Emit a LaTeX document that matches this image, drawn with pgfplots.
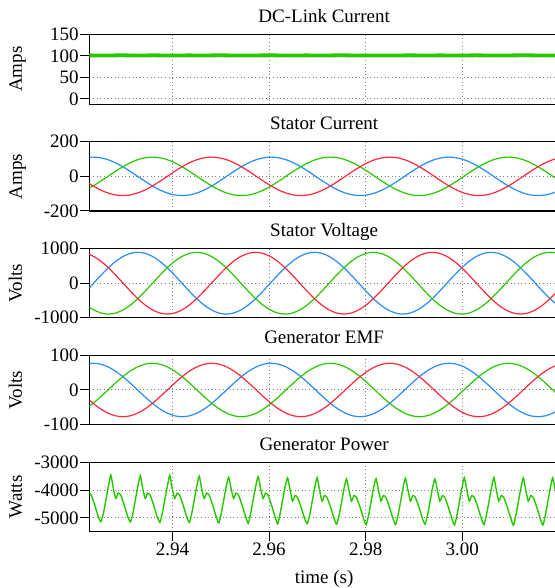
\documentclass[border=0pt]{standalone}
\usepackage{pgfplots}
\pgfplotsset{compat=1.18}
\usepackage{pgfplotstable}
\usepackage{fontspec}
\setmainfont{Liberation Serif}
\newcommand{\fs}{\fontsize{9.5}{11}\selectfont}
\definecolor{pgreen}{RGB}{40,200,0}
\definecolor{pblue}{RGB}{40,140,255}
\definecolor{pred}{RGB}{255,40,60}

% stator current (ib ig ir) and generator EMF (eb eg er)
\pgfplotstableread{
t ib ig ir eb eg er
2.922060 107.2 -78.5 -28.7 74.4 -54.4 -19.9
2.923594 111 -55.5 -55.5 77 -38.5 -38.5
2.925129 107.2 -28.7 -78.5 74.4 -19.9 -54.4
2.926663 96.1 0 -96.1 66.7 0 -66.7
2.928198 78.5 28.7 -107.2 54.4 19.9 -74.4
2.929732 55.5 55.5 -111 38.5 38.5 -77
2.931267 28.7 78.5 -107.2 19.9 54.4 -74.4
2.932801 0 96.1 -96.1 0 66.7 -66.7
2.934336 -28.7 107.2 -78.5 -19.9 74.4 -54.4
2.935870 -55.5 111 -55.5 -38.5 77 -38.5
2.937405 -78.5 107.2 -28.7 -54.4 74.4 -19.9
2.938939 -96.1 96.1 0 -66.7 66.7 0
2.940474 -107.2 78.5 28.7 -74.4 54.4 19.9
2.942008 -111 55.5 55.5 -77 38.5 38.5
2.943543 -107.2 28.7 78.5 -74.4 19.9 54.4
2.945077 -96.1 0 96.1 -66.7 0 66.7
2.946612 -78.5 -28.7 107.2 -54.4 -19.9 74.4
2.948146 -55.5 -55.5 111 -38.5 -38.5 77
2.949681 -28.7 -78.5 107.2 -19.9 -54.4 74.4
2.951215 0 -96.1 96.1 0 -66.7 66.7
2.952750 28.7 -107.2 78.5 19.9 -74.4 54.4
2.954284 55.5 -111 55.5 38.5 -77 38.5
2.955819 78.5 -107.2 28.7 54.4 -74.4 19.9
2.957353 96.1 -96.1 0 66.7 -66.7 0
2.958888 107.2 -78.5 -28.7 74.4 -54.4 -19.9
2.960422 111 -55.5 -55.5 77 -38.5 -38.5
2.961957 107.2 -28.7 -78.5 74.4 -19.9 -54.4
2.963491 96.1 0 -96.1 66.7 0 -66.7
2.965026 78.5 28.7 -107.2 54.4 19.9 -74.4
2.966560 55.5 55.5 -111 38.5 38.5 -77
2.968095 28.7 78.5 -107.2 19.9 54.4 -74.4
2.969629 0 96.1 -96.1 0 66.7 -66.7
2.971164 -28.7 107.2 -78.5 -19.9 74.4 -54.4
2.972698 -55.5 111 -55.5 -38.5 77 -38.5
2.974233 -78.5 107.2 -28.7 -54.4 74.4 -19.9
2.975767 -96.1 96.1 0 -66.7 66.7 0
2.977302 -107.2 78.5 28.7 -74.4 54.4 19.9
2.978836 -111 55.5 55.5 -77 38.5 38.5
2.980371 -107.2 28.7 78.5 -74.4 19.9 54.4
2.981905 -96.1 0 96.1 -66.7 0 66.7
2.983440 -78.5 -28.7 107.2 -54.4 -19.9 74.4
2.984974 -55.5 -55.5 111 -38.5 -38.5 77
2.986509 -28.7 -78.5 107.2 -19.9 -54.4 74.4
2.988043 0 -96.1 96.1 0 -66.7 66.7
2.989578 28.7 -107.2 78.5 19.9 -74.4 54.4
2.991112 55.5 -111 55.5 38.5 -77 38.5
2.992647 78.5 -107.2 28.7 54.4 -74.4 19.9
2.994181 96.1 -96.1 0 66.7 -66.7 0
2.995716 107.2 -78.5 -28.7 74.4 -54.4 -19.9
2.997250 111 -55.5 -55.5 77 -38.5 -38.5
2.998785 107.2 -28.7 -78.5 74.4 -19.9 -54.4
3.000319 96.1 0 -96.1 66.7 0 -66.7
3.001854 78.5 28.7 -107.2 54.4 19.9 -74.4
3.003388 55.5 55.5 -111 38.5 38.5 -77
3.004923 28.7 78.5 -107.2 19.9 54.4 -74.4
3.006457 0 96.1 -96.1 0 66.7 -66.7
3.007992 -28.7 107.2 -78.5 -19.9 74.4 -54.4
3.009526 -55.5 111 -55.5 -38.5 77 -38.5
3.011061 -78.5 107.2 -28.7 -54.4 74.4 -19.9
3.012595 -96.1 96.1 0 -66.7 66.7 0
3.014130 -107.2 78.5 28.7 -74.4 54.4 19.9
3.015664 -111 55.5 55.5 -77 38.5 38.5
3.017199 -107.2 28.7 78.5 -74.4 19.9 54.4
3.018733 -96.1 0 96.1 -66.7 0 66.7
3.020268 -78.5 -28.7 107.2 -54.4 -19.9 74.4
}\ctable

% stator voltage
\pgfplotstableread{
t vb vg vr
2.922180 -231.6 -632.9 864.5
2.923703 0 -775.1 775.1
2.925226 231.6 -864.5 632.9
2.926749 447.5 -895 447.5
2.928272 632.9 -864.5 231.6
2.929796 775.1 -775.1 0
2.931319 864.5 -632.9 -231.6
2.932842 895 -447.5 -447.5
2.934365 864.5 -231.6 -632.9
2.935888 775.1 0 -775.1
2.937412 632.9 231.6 -864.5
2.938935 447.5 447.5 -895
2.940458 231.6 632.9 -864.5
2.941981 0 775.1 -775.1
2.943504 -231.6 864.5 -632.9
2.945028 -447.5 895 -447.5
2.946551 -632.9 864.5 -231.6
2.948074 -775.1 775.1 0
2.949597 -864.5 632.9 231.6
2.951120 -895 447.5 447.5
2.952644 -864.5 231.6 632.9
2.954167 -775.1 0 775.1
2.955690 -632.9 -231.6 864.5
2.957213 -447.5 -447.5 895
2.958736 -231.6 -632.9 864.5
2.960260 0 -775.1 775.1
2.961783 231.6 -864.5 632.9
2.963306 447.5 -895 447.5
2.964829 632.9 -864.5 231.6
2.966352 775.1 -775.1 0
2.967876 864.5 -632.9 -231.6
2.969399 895 -447.5 -447.5
2.970922 864.5 -231.6 -632.9
2.972445 775.1 0 -775.1
2.973968 632.9 231.6 -864.5
2.975492 447.5 447.5 -895
2.977015 231.6 632.9 -864.5
2.978538 0 775.1 -775.1
2.980061 -231.6 864.5 -632.9
2.981584 -447.5 895 -447.5
2.983108 -632.9 864.5 -231.6
2.984631 -775.1 775.1 0
2.986154 -864.5 632.9 231.6
2.987677 -895 447.5 447.5
2.989200 -864.5 231.6 632.9
2.990724 -775.1 0 775.1
2.992247 -632.9 -231.6 864.5
2.993770 -447.5 -447.5 895
2.995293 -231.6 -632.9 864.5
2.996816 0 -775.1 775.1
2.998340 231.6 -864.5 632.9
2.999863 447.5 -895 447.5
3.001386 632.9 -864.5 231.6
3.002909 775.1 -775.1 0
3.004432 864.5 -632.9 -231.6
3.005956 895 -447.5 -447.5
3.007479 864.5 -231.6 -632.9
3.009002 775.1 0 -775.1
3.010525 632.9 231.6 -864.5
3.012048 447.5 447.5 -895
3.013572 231.6 632.9 -864.5
3.015095 0 775.1 -775.1
3.016618 -231.6 864.5 -632.9
3.018141 -447.5 895 -447.5
3.019664 -632.9 864.5 -231.6
3.021188 -775.1 775.1 0
}\vtable

% generator power
\pgfplotstableread{
t p
2.92218 -4300
2.92268 -4110
2.92319 -4180
2.92370 -4420
2.92421 -4700
2.92472 -4990
2.92522 -5140
2.92573 -4830
2.92624 -4350
2.92675 -3870
2.92726 -3460
2.92777 -3950
2.92828 -4300
2.92878 -4110
2.92929 -4180
2.92980 -4420
2.93031 -4700
2.93082 -4990
2.93132 -5150
2.93183 -4830
2.93234 -4350
2.93285 -3870
2.93335 -3480
2.93386 -3950
2.93437 -4300
2.93487 -4110
2.93538 -4180
2.93589 -4420
2.93640 -4700
2.93691 -4990
2.93741 -5160
2.93792 -4830
2.93843 -4350
2.93894 -3870
2.93945 -3470
2.93996 -3950
2.94047 -4300
2.94097 -4110
2.94148 -4180
2.94199 -4420
2.94250 -4700
2.94301 -4990
2.94351 -5170
2.94402 -4830
2.94453 -4350
2.94504 -3870
2.94555 -3500
2.94606 -3950
2.94657 -4300
2.94707 -4110
2.94758 -4180
2.94809 -4420
2.94860 -4700
2.94911 -4990
2.94961 -5190
2.95012 -4830
2.95063 -4350
2.95114 -3870
2.95164 -3540
2.95215 -3950
2.95266 -4300
2.95316 -4110
2.95367 -4180
2.95418 -4420
2.95469 -4700
2.95520 -4990
2.95570 -5200
2.95621 -4830
2.95672 -4350
2.95723 -3870
2.95774 -3520
2.95825 -3950
2.95876 -4300
2.95926 -4110
2.95977 -4180
2.96028 -4420
2.96079 -4700
2.96130 -4990
2.96180 -5220
2.96231 -4830
2.96282 -4350
2.96333 -3870
2.96384 -3560
2.96435 -4000
2.96486 -4400
2.96536 -4200
2.96587 -4260
2.96638 -4490
2.96689 -4760
2.96740 -5050
2.96790 -5210
2.96841 -4900
2.96892 -4420
2.96943 -3930
2.96994 -3550
2.97045 -4000
2.97096 -4400
2.97146 -4200
2.97197 -4260
2.97248 -4490
2.97299 -4760
2.97350 -5050
2.97400 -5230
2.97451 -4900
2.97502 -4420
2.97553 -3930
2.97603 -3600
2.97654 -4000
2.97705 -4400
2.97755 -4200
2.97806 -4260
2.97857 -4490
2.97908 -4760
2.97959 -5050
2.98009 -5250
2.98060 -4900
2.98111 -4420
2.98162 -3930
2.98213 -3590
2.98264 -4000
2.98315 -4400
2.98365 -4200
2.98416 -4260
2.98467 -4490
2.98518 -4760
2.98569 -5050
2.98619 -5240
2.98670 -4900
2.98721 -4420
2.98772 -3930
2.98823 -3580
2.98874 -4000
2.98925 -4400
2.98975 -4200
2.99026 -4260
2.99077 -4490
2.99128 -4760
2.99179 -5050
2.99229 -5230
2.99280 -4900
2.99331 -4420
2.99382 -3930
2.99432 -3600
2.99483 -4000
2.99534 -4400
2.99584 -4200
2.99635 -4260
2.99686 -4490
2.99737 -4760
2.99788 -5050
2.99838 -5260
2.99889 -4900
2.99940 -4420
2.99991 -3930
3.00042 -3560
3.00093 -4000
3.00144 -4400
3.00194 -4200
3.00245 -4260
3.00296 -4490
3.00347 -4760
3.00398 -5050
3.00448 -5250
3.00499 -4900
3.00550 -4420
3.00601 -3930
3.00652 -3550
3.00703 -4000
3.00754 -4400
3.00804 -4200
3.00855 -4260
3.00906 -4490
3.00957 -4760
3.01008 -5050
3.01058 -5270
3.01109 -4900
3.01160 -4420
3.01211 -3930
3.01261 -3570
3.01312 -4000
3.01363 -4400
3.01413 -4200
3.01464 -4260
3.01515 -4490
3.01566 -4760
3.01617 -5050
3.01667 -5260
3.01718 -4900
3.01769 -4420
3.01820 -3930
3.01871 -3560
3.01922 -4000
3.01973 -4400
3.02023 -4200
}\ptable

\pgfplotsset{
  panel/.style={
    scale only axis, width=234.85pt, anchor=north west,
    xmin=2.9228, xmax=3.02,
    font=\fs,
    axis line style={black, line width=0.6pt},
    tick align=outside, major tick length=4.5pt,
    tick style={black, line width=0.5pt},
    xtick={2.94,2.96,2.98,3.00},
    xtick pos=left, ytick pos=left,
    grid=major,
    major grid style={gray, line width=0.5pt, dash pattern=on 0.5pt off 1.3pt},
    title style={at={(axis description cs:0.5,1)}, anchor=base, font=\fs},
    ylabel style={at={(axis description cs:-0.1433,0.5)}, anchor=base, font=\fs},
    tick label style={font=\fs},
    yticklabel style={inner xsep=0.6pt},
    xticklabel style={inner ysep=1pt},
    every axis plot/.append style={no markers},
  },
  upper/.style={xticklabels={}, xtick style={draw=none}},
}

\begin{document}
\begin{tikzpicture}
\path[use as bounding box] (0,0) rectangle (277.5pt,294pt);
\clip (0,0) rectangle (277.5pt,294pt);

% DC-Link Current
\begin{axis}[panel, upper, at={(44.65pt,276.85pt)}, height=35pt,
  ymin=-12.3, ymax=150, ytick={0,50,100,150}, yticklabels={0,50,100,150},
  title={DC-Link Current}, ylabel={Amps}]
\addplot[pgreen, line width=1.9pt] coordinates {
(2.9222,101.0) (2.9257,100.6) (2.9292,101.3) (2.9327,100.8) (2.9362,101.2)
(2.9397,100.7) (2.9432,101.1) (2.9467,100.9) (2.9502,101.3) (2.9537,100.6)
(2.9572,101.0) (2.9607,101.2) (2.9642,100.7) (2.9677,101.1) (2.9712,100.8)
(2.9747,101.3) (2.9782,100.9) (2.9817,101.0) (2.9852,100.6) (2.9887,101.2)
(2.9922,100.9) (2.9957,101.1) (2.9992,100.7) (3.0027,101.2) (3.0062,100.8)
(3.0097,101.0) (3.0132,101.3) (3.0167,100.8) (3.0205,101.0)};
\end{axis}

% Stator Current
\begin{axis}[panel, upper, at={(44.65pt,223.15pt)}, height=34.65pt,
  ymin=-200, ymax=200, ytick={-200,0,200}, yticklabels={-200,0,200},
  title={Stator Current}, ylabel={Amps}]
\addplot[pblue, line width=0.6pt, smooth] table[x=t, y=ib] {\ctable};
\addplot[pgreen, line width=0.6pt, smooth] table[x=t, y=ig] {\ctable};
\addplot[pred, line width=0.6pt, smooth] table[x=t, y=ir] {\ctable};
\end{axis}

% Stator Voltage
\begin{axis}[panel, upper, at={(44.65pt,169.65pt)}, height=34.5pt,
  ymin=-1000, ymax=1000, ytick={-1000,0,1000}, yticklabels={-1000,0,1000},
  title={Stator Voltage}, ylabel={Volts}]
\addplot[pblue, line width=0.6pt, smooth] table[x=t, y=vb] {\vtable};
\addplot[pgreen, line width=0.6pt, smooth] table[x=t, y=vg] {\vtable};
\addplot[pred, line width=0.6pt, smooth] table[x=t, y=vr] {\vtable};
\end{axis}

% Generator EMF
\begin{axis}[panel, upper, at={(44.65pt,116.35pt)}, height=34.7pt,
  ymin=-100, ymax=100, ytick={-100,0,100}, yticklabels={-100,0,100},
  title={Generator EMF}, ylabel={Volts}]
\addplot[pblue, line width=0.6pt, smooth] table[x=t, y=eb] {\ctable};
\addplot[pgreen, line width=0.6pt, smooth] table[x=t, y=eg] {\ctable};
\addplot[pred, line width=0.6pt, smooth] table[x=t, y=er] {\ctable};
\end{axis}

% Generator Power
\begin{axis}[panel, at={(44.65pt,62.85pt)}, height=34.7pt,
  ymin=-5500, ymax=-3000, ytick={-5000,-4000,-3000}, yticklabels={-5000,-4000,-3000},
  xticklabels={2.94,2.96,2.98,3.00},
  title={Generator Power}, ylabel={Watts},
  xlabel={time (s)},
  xlabel style={at={(axis description cs:0.5,0)}, anchor=base, yshift=-26pt, font=\fs}]
\addplot[pgreen, line width=0.7pt, smooth, tension=0.35] table[x=t, y=p] {\ptable};
\end{axis}
\end{tikzpicture}
\end{document}
